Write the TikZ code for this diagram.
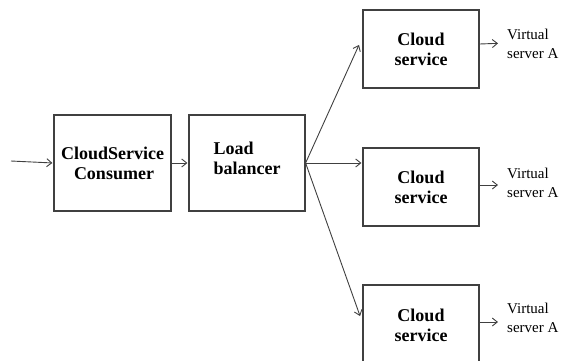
\documentclass[tikz,border=0pt]{standalone}
\usepackage{fontspec}
\usetikzlibrary{arrows.meta}
\setmainfont{Liberation Serif}
\begin{document}
\begin{tikzpicture}[x=1pt, y=-1pt,
        box/.style={draw=black!75, line width=1.2pt, align=center, font=\fontsize{18}{20}\selectfont\bfseries},
        vlabel/.style={anchor=west, align=left, inner sep=0pt, font=\fontsize{15}{19}\selectfont},
        arr/.style={-{Straight Barb[length=5pt,width=8pt]}, draw=black!75, line width=0.9pt, shorten >=1pt}]
        \useasboundingbox (0,0) rectangle (561,360);
        \clip (0,0) rectangle (561,360);
        % Define the nodes
        \coordinate (in0) at (11,161);
        \node[box, minimum width=117pt, minimum height=96pt] (consumer) at (112.5,163) {CloudService\\\,Consumer};
        \node[box, minimum width=116pt, minimum height=96pt, align=left] (lb) at (247,163) {Load\\balancer\hspace{16pt}\\[-11pt]};
        \node[box, minimum width=116pt, minimum height=78pt] (cs1) at (421,49) {Cloud\\service};
        \node[box, minimum width=116pt, minimum height=78pt] (cs2) at (421,187) {Cloud\\service};
        \node[box, minimum width=116pt, minimum height=80pt] (cs3) at (421,325) {Cloud\\service};
        \node[vlabel] (va1) at (507,44) {Virtual\\server A};
        \node[vlabel] (va2) at (507,183) {Virtual\\server A};
        \node[vlabel] (va3) at (507,318) {Virtual\\server A};

        % Draw the edges
        \draw[arr] (in0) -- (consumer.west);
        \draw[arr] (consumer) -- (lb);
        \draw[arr] (lb.east) -- ([xshift=-3pt,yshift=5pt]cs1.west);
        \draw[arr] (lb.east) -- (lb.east -| cs2.west);
        \draw[arr] (lb.east) -- ([xshift=-2pt,yshift=8pt]cs3.west);
        \draw[arr, shorten >=9pt] (cs1.east |- va1.west) -- ([yshift=1pt]va1.west);
        \draw[arr, shorten >=9pt] ([yshift=-2pt]cs2.east |- va2.west) -- ([yshift=-2pt]va2.west);
        \draw[arr, shorten >=9pt] ([yshift=-4pt]cs3.east |- va3.west) -- ([yshift=-4pt]va3.west);
\end{tikzpicture}
\end{document}
